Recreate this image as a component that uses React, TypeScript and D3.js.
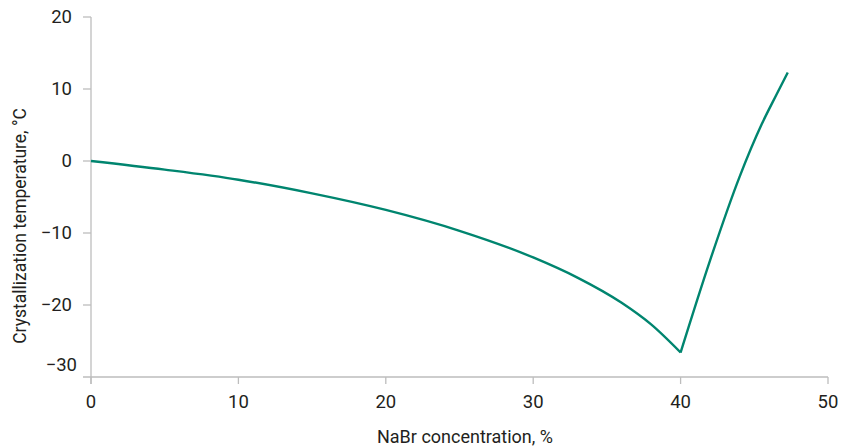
import React from "react";
import * as d3 from "d3";

const W = 841;
const H = 447;

// Left branch (ice crystallization)
const leftX = [0, 5, 10, 15, 20, 25, 30, 33, 36, 38, 40];
const leftY = [0, -1.2, -2.6, -4.5, -6.8, -9.7, -13.4, -16.2, -19.7, -22.7, -26.6];
// Right branch (salt crystallization)
const rightX = [40, 42, 44, 45.5, 46.5, 47.27];
const rightY = [-26.6, -13.8, -2.2, 5.1, 9.2, 12.3];

const xTicks = [0, 10, 20, 30, 40, 50];
const yTicks = [20, 10, 0, -10, -20, -30];

const FONT = "Roboto, 'Open Sans', sans-serif";
const TEXT = "#231f20";
const AXIS = "#bdbdbd";
const LINE = "#00856f";

export default function App() {
  const x = d3.scaleLinear().domain([0, 50]).range([91, 828]);
  const y = d3.scaleLinear().domain([-30, 20]).range([377, 17]);

  const line = d3
    .line<[number, number]>()
    .x((d) => x(d[0]))
    .y((d) => y(d[1]))
    .curve(d3.curveMonotoneX);

  const leftPts = leftX.map((v, i) => [v, leftY[i]] as [number, number]);
  const rightPts = rightX.map((v, i) => [v, rightY[i]] as [number, number]);

  return (
    <svg
      width={W}
      height={H}
      style={{ position: "absolute", left: 0, top: 0, background: "#fff" }}
      fontFamily={FONT}
    >
      {/* axes */}
      <line x1={x(0)} x2={x(0)} y1={y(20)} y2={y(-30) + 7} stroke={AXIS} strokeWidth={1.3} />
      <line x1={x(0) - 8} x2={x(50)} y1={y(-30)} y2={y(-30)} stroke={AXIS} strokeWidth={1.3} />
      {yTicks.map((t) => (
        <g key={"y" + t}>
          {t !== -30 && (
            <line x1={x(0) - 8} x2={x(0)} y1={y(t)} y2={y(t)} stroke={AXIS} strokeWidth={1.3} />
          )}
          <text
            x={t === -30 ? 77 : 72}
            y={t === -30 ? y(t) - 12 : y(t)}
            dy="0.35em"
            textAnchor="end"
            fontSize={18.5}
            fill={TEXT}
          >
            {t < 0 ? "\u2212" + Math.abs(t) : String(t)}
          </text>
        </g>
      ))}
      {xTicks.map((t) => (
        <g key={"x" + t}>
          <line x1={x(t)} x2={x(t)} y1={y(-30)} y2={y(-30) + 7} stroke={AXIS} strokeWidth={1.3} />
          <text x={x(t)} y={408} textAnchor="middle" fontSize={18.5} fill={TEXT}>
            {t}
          </text>
        </g>
      ))}
      {/* axis titles */}
      <text x={465} y={443} textAnchor="middle" fontSize={18} fill={TEXT}>
        NaBr concentration, %
      </text>
      <text
        transform={`translate(26, 226) rotate(-90)`}
        textAnchor="middle"
        fontSize={17.5}
        fill={TEXT}
      >
        Crystallization temperature, °C
      </text>
      {/* data */}
      <path d={line(leftPts) ?? ""} fill="none" stroke={LINE} strokeWidth={2.4} />
      <path d={line(rightPts) ?? ""} fill="none" stroke={LINE} strokeWidth={2.4} />
    </svg>
  );
}
